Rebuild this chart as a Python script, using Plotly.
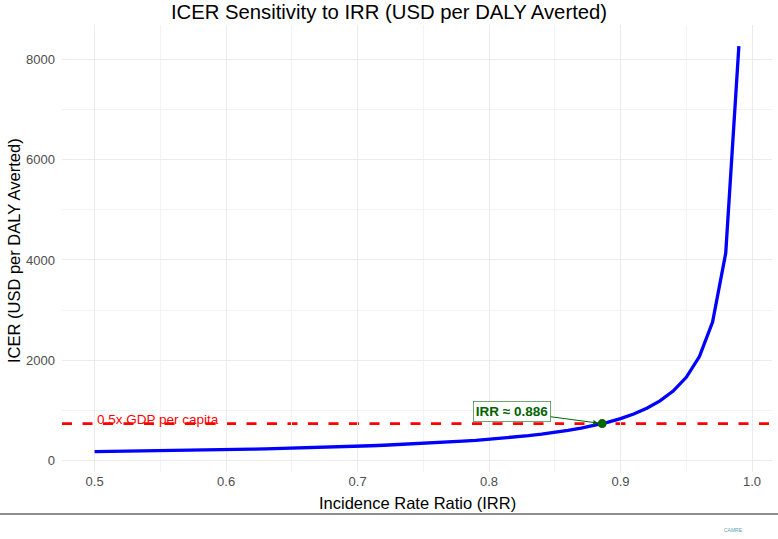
import plotly.graph_objects as go

# Data
irr = [0.50, 0.51, 0.52, 0.53, 0.54, 0.55, 0.56, 0.57, 0.58, 0.59,
       0.60, 0.61, 0.62, 0.63, 0.64, 0.65, 0.66, 0.67, 0.68, 0.69,
       0.70, 0.71, 0.72, 0.73, 0.74, 0.75, 0.76, 0.77, 0.78, 0.79,
       0.80, 0.81, 0.82, 0.83, 0.84, 0.85, 0.86, 0.87, 0.88, 0.89,
       0.90, 0.91, 0.92, 0.93, 0.94, 0.95, 0.96, 0.97, 0.98, 0.99]
icer = [180, 183, 187, 190, 194, 198, 202, 207, 211, 216,
        221, 226, 232, 238, 244, 250, 257, 265, 272, 281,
        290, 299, 309, 320, 332, 345, 358, 373, 390, 407,
        427, 449, 473, 500, 530, 564, 604, 649, 702, 764,
        839, 931, 1045, 1192, 1388, 1663, 2075, 2762, 4135, 8260]
threshold = 740
threshold_label = "0.5x GDP per capita"
irr_cross = 0.886
cross_label = "IRR ≈ 0.886"
x_ticks = [0.5, 0.6, 0.7, 0.8, 0.9, 1.0]
x_tick_text = ["0.5", "0.6", "0.7", "0.8", "0.9", "1.0"]
y_ticks = [0, 2000, 4000, 6000, 8000]

FONT = "Liberation Sans, Arial, Helvetica, sans-serif"
W, H = 778, 539
L, R, T, B = 62, 6, 25, 67
pw, ph = W - L - R, H - T - B

fig = go.Figure()
fig.add_trace(go.Scatter(x=irr, y=icer, mode="lines",
                         line=dict(color="#0000ff", width=3.3),
                         hoverinfo="skip", showlegend=False))
fig.add_trace(go.Scatter(x=[irr_cross], y=[threshold], mode="markers",
                         marker=dict(color="#006400", size=9),
                         hoverinfo="skip", showlegend=False))

fig.add_shape(type="line", xref="paper", x0=0, x1=1, yref="y",
              y0=threshold, y1=threshold, layer="between",
              line=dict(color="#ff0000", width=2.8, dash="10px,10.5px"))

# bottom separator line
fig.add_shape(type="line", xref="paper", yref="paper",
              x0=-L / pw, x1=(W - L) / pw,
              y0=-(514 - (T + ph)) / ph, y1=-(514 - (T + ph)) / ph,
              line=dict(color="#6a6a6a", width=1.3))

fig.add_annotation(x=irr[0], y=threshold, text=threshold_label,
                   showarrow=False, xanchor="left", yanchor="middle", yshift=4,
                   font=dict(family=FONT, size=13.5, color="#ff0000"))

fig.add_annotation(x=irr_cross, y=threshold, text="<b>" + cross_label + "</b>",
                   showarrow=True, ax=-90, ay=-12,
                   arrowhead=2, arrowsize=1, arrowwidth=1, arrowcolor="#006400",
                   standoff=4,
                   bgcolor="white", bordercolor="#4f8f4f", borderwidth=0.8, borderpad=2,
                   font=dict(family=FONT, size=13.5, color="#006400"))

# axis titles
fig.add_annotation(xref="paper", yref="paper", x=0.5, y=-(503 - (T + ph)) / ph,
                   text="Incidence Rate Ratio (IRR)", showarrow=False,
                   xanchor="center", yanchor="middle",
                   font=dict(family=FONT, size=16.5, color="black"))
fig.add_annotation(xref="paper", yref="paper", x=(14 - L) / pw, y=((T + ph) - 251) / ph,
                   text="ICER (USD per DALY Averted)", showarrow=False, textangle=-90,
                   xanchor="center", yanchor="middle",
                   font=dict(family=FONT, size=16.5, color="black"))

# logo placeholder text
fig.add_annotation(xref="paper", yref="paper", x=(733 - L) / pw, y=((T + ph) - 530) / ph,
                   text="CAMRE", showarrow=False, xanchor="center", yanchor="middle",
                   font=dict(family=FONT, size=5, color="#5a9fa8"))

fig.update_layout(
    width=W, height=H,
    margin=dict(l=L, r=R, t=T, b=B, autoexpand=False),
    paper_bgcolor="white", plot_bgcolor="white",
    title=dict(text="ICER Sensitivity to IRR (USD per DALY Averted)",
               x=389 / W, xref="container", xanchor="center",
               y=1 - 12 / H, yref="container", yanchor="middle",
               font=dict(family=FONT, size=20.3, color="black")),
    xaxis=dict(range=[0.4752, 1.0152], tickvals=x_ticks, ticktext=x_tick_text,
               showgrid=True, gridcolor="#ebebeb", gridwidth=1.1,
               zeroline=False, showline=False, ticks="",
               tickfont=dict(family=FONT, size=13, color="#4d4d4d"),
               minor=dict(dtick=0.05, tick0=0.45, showgrid=True,
                          gridcolor="#f3f3f3", gridwidth=0.7, ticks="")),
    yaxis=dict(range=[-224, 8680], tickvals=y_ticks,
               showgrid=True, gridcolor="#ebebeb", gridwidth=1.1,
               zeroline=False, showline=False, ticks="",
               ticklabelstandoff=6,
               tickfont=dict(family=FONT, size=13, color="#4d4d4d"),
               minor=dict(dtick=1000, tick0=0, showgrid=True,
                          gridcolor="#f3f3f3", gridwidth=0.7, ticks="")),
    font=dict(family=FONT),
)

fig.write_html("out.html")
